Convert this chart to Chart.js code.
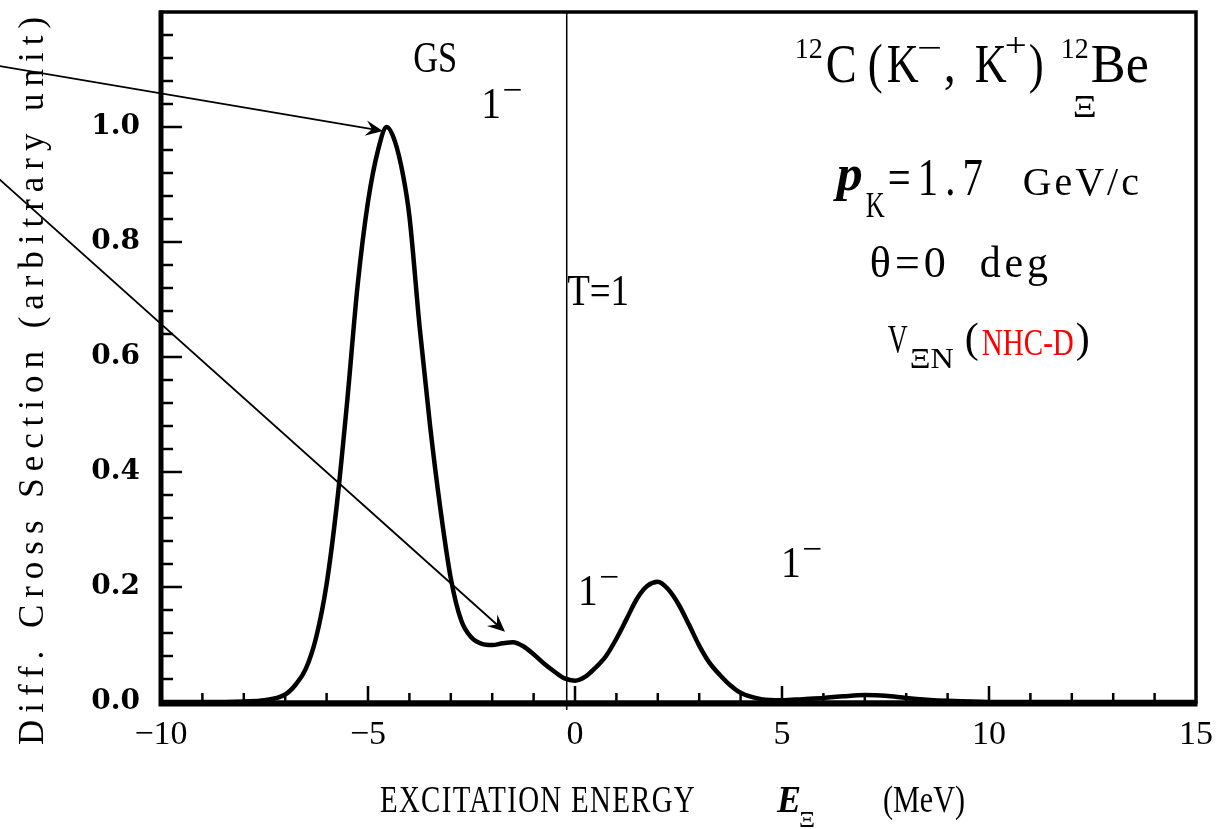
<!DOCTYPE html>
<html lang="en">
<head>
<meta charset="UTF-8">
<title>12C(K-,K+) Xi hypernucleus spectrum</title>
<style>
  html, body { margin: 0; padding: 0; background: #fff; }
  canvas { display: block; }
</style>
</head>
<body>
<canvas id="spectrum" width="1230" height="829"></canvas>

<script src="https://cdn.jsdelivr.net/npm/chart.js"></script>
<script>
// excitation energy E (MeV) and diff. cross section
const energy = [-10, -9, -8, -7.5, -7.0, -6.75, -6.5, -6.25, -6.0, -5.75, -5.5, -5.25, -5.0, -4.75, -4.55,
  -4.35, -4.15, -4.0, -3.75, -3.5, -3.25, -3.0, -2.75, -2.5, -2.25, -2.0, -1.75, -1.5, -1.25, -1.0, -0.75,
  -0.5, -0.25, 0.0, 0.25, 0.5, 0.75, 1.0, 1.25, 1.5, 1.75, 2.0, 2.25, 2.5, 2.75, 3.0, 3.25, 3.5, 3.75,
  4.0, 4.5, 5.0, 5.5, 6.0, 6.5, 7.0, 7.5, 8.0, 8.5, 9.0, 10, 12, 15];
const sigma = [0, 0, 0.001, 0.003, 0.013, 0.03, 0.058, 0.113, 0.205, 0.345, 0.525, 0.725, 0.87, 0.962, 1.0,
  0.975, 0.915, 0.845, 0.65, 0.48, 0.335, 0.215, 0.142, 0.112, 0.101, 0.099, 0.102, 0.104, 0.097, 0.083, 0.067,
  0.053, 0.041, 0.037, 0.044, 0.06, 0.08, 0.11, 0.145, 0.18, 0.202, 0.209, 0.196, 0.17, 0.135, 0.098, 0.068, 0.047, 0.029,
  0.016, 0.005, 0.003, 0.005, 0.007, 0.01, 0.012, 0.011, 0.007, 0.004, 0.002, 0, 0, 0];

const xTicks = [-10, -5, 0, 5, 10, 15];
const yTicks = [0, 0.2, 0.4, 0.6, 0.8, 1.0];

// annotation anchors in data units (E, sigma)
const tLineE = -0.2;
const arrows = [
  { from: [-13.9, 1.106], to: [-4.64, 0.993] },
  { from: [-13.9, 0.909], to: [-1.69, 0.122] }
];
const spinLabels = [[-2.17, 1.016], [0.17, 0.169], [5.07, 0.217]];

const SERIF = '"Liberation Serif", "Times New Roman", serif';

// draw one run of text, squeezed horizontally (the original uses a narrow mincho face)
function run(ctx, s, x, y, size, o = {}) {
  ctx.save();
  ctx.font = `${o.font || ''} ${size}px ${SERIF}`;
  ctx.fillStyle = o.color || '#000';
  ctx.textBaseline = 'alphabetic';
  ctx.textAlign = 'left';
  let sx = o.sx || 0.8;
  let ls = o.ls || 0;
  if (o.span) {
    // keep glyph shape at sx, spread letters out to reach the span
    ctx.letterSpacing = '0px';
    const m = ctx.measureText(s).width;
    ls = (o.span / sx - m) / s.length;
  }
  ctx.letterSpacing = ls + 'px';
  if (o.w) sx = o.w / ctx.measureText(s).width;
  ctx.translate(x, y);
  if (o.rot) ctx.rotate(o.rot);
  ctx.scale(sx, 1);
  ctx.fillText(s, 0, 0);
  ctx.restore();
}

function arrow(ctx, x0, y0, x1, y1) {
  const ang = Math.atan2(y1 - y0, x1 - x0);
  ctx.beginPath();
  ctx.moveTo(x0, y0);
  ctx.lineTo(x1 - 8 * Math.cos(ang), y1 - 8 * Math.sin(ang));
  ctx.stroke();
  const L = 19, W = 0.42, back = 11;
  ctx.beginPath();
  ctx.moveTo(x1, y1);
  ctx.lineTo(x1 - L * Math.cos(ang - W), y1 - L * Math.sin(ang - W));
  ctx.lineTo(x1 - back * Math.cos(ang), y1 - back * Math.sin(ang));
  ctx.lineTo(x1 - L * Math.cos(ang + W), y1 - L * Math.sin(ang + W));
  ctx.closePath();
  ctx.fill();
}

const overlay = {
  id: 'overlay',
  afterDatasetsDraw(chart) {
    const { ctx, chartArea: a, scales: { x, y } } = chart;
    const P = (e, s) => [x.getPixelForValue(e), y.getPixelForValue(s)];
    ctx.save();
    ctx.strokeStyle = '#000';
    ctx.fillStyle = '#000';

    // T=1 threshold line
    const tx = x.getPixelForValue(tLineE);
    ctx.lineWidth = 1.5;
    ctx.beginPath();
    ctx.moveTo(tx, a.top);
    ctx.lineTo(tx, a.bottom + 8);
    ctx.stroke();

    // arrows coming in from the left margin
    ctx.lineWidth = 1.8;
    arrows.forEach(ar => {
      const [x0, y0] = P(...ar.from);
      const [x1, y1] = P(...ar.to);
      arrow(ctx, x0, y0, x1, y1);
    });

    // inward tick marks
    ctx.lineWidth = 2.5;
    for (let i = -9; i <= 14; i++) {
      const X = x.getPixelForValue(i);
      const len = i % 5 === 0 ? 16 : 9;
      ctx.beginPath();
      ctx.moveTo(X, a.bottom);
      ctx.lineTo(X, a.bottom - len);
      ctx.stroke();
    }
    for (let k = 1; k < 30; k++) {
      const Y = y.getPixelForValue(k * 0.04);
      const len = k % 5 === 0 ? 21 : 12;
      ctx.beginPath();
      ctx.moveTo(a.left, Y);
      ctx.lineTo(a.left + len, Y);
      ctx.stroke();
    }

    // frame
    ctx.lineWidth = 3.5;
    ctx.strokeRect(a.left, a.top, a.right - a.left, a.bottom - a.top);
    ctx.lineWidth = 5;
    ctx.beginPath();
    ctx.moveTo(a.left, a.top - 1.5);
    ctx.lineTo(a.left, a.bottom + 2);
    ctx.lineTo(a.right + 1.5, a.bottom + 2);
    ctx.stroke();

    // state labels
    let [gx, gy] = P(-3.91, 1.096);
    run(ctx, 'GS', gx, gy, 44, { w: 44 });
    spinLabels.forEach(([e, s]) => {
      const [X, Y] = P(e, s);
      run(ctx, '1', X - 4, Y, 44, { sx: 0.9 });
      run(ctx, '\u2212', X + 17, Y - 17, 34, { w: 20 });
    });
    [gx, gy] = P(-0.19, 0.69);
    run(ctx, 'T=1', gx, gy, 44, { w: 62 });

    // reaction title block
    const [tx0, ty0] = P(5.31, 1.078);
    run(ctx, '12', tx0, ty0 - 24, 30, { w: 28 });
    run(ctx, 'C', tx0 + 31, ty0, 54, { w: 31 });
    run(ctx, '(', tx0 + 73, ty0, 54, { w: 15 });
    run(ctx, 'K', tx0 + 92, ty0, 54, { w: 32 });
    run(ctx, '\u2212', tx0 + 122, ty0 - 23, 34, { w: 25 });
    run(ctx, ',', tx0 + 149, ty0, 54, { w: 12 });
    run(ctx, 'K', tx0 + 180, ty0, 54, { w: 32 });
    run(ctx, '+', tx0 + 210, ty0 - 26, 34, { w: 22 });
    run(ctx, ')', tx0 + 234, ty0, 54, { w: 15 });
    run(ctx, '12', tx0 + 266, ty0 - 24, 30, { w: 28 });
    run(ctx, 'Be', tx0 + 296, ty0, 54, { w: 58 });
    run(ctx, '\u039E', tx0 + 278, ty0 + 35, 32, { w: 24 });

    // kinematics
    run(ctx, 'p', tx0 + 42, ty0 + 108, 50, { font: 'italic bold', w: 26 });
    run(ctx, 'K', tx0 + 71, ty0 + 135, 36, { w: 19 });
    run(ctx, '=1.7', tx0 + 93, ty0 + 113, 52, { w: 102, ls: 9 });
    run(ctx, 'GeV/c', tx0 + 228, ty0 + 113, 40, { w: 119, ls: 3 });
    run(ctx, '\u03B8=0', tx0 + 75, ty0 + 195, 44, { w: 80, ls: 4 });
    run(ctx, 'deg', tx0 + 185, ty0 + 195, 44, { w: 72, ls: 4 });

    // interaction
    run(ctx, 'V', tx0 + 93, ty0 + 270, 40, { w: 20 });
    run(ctx, '\u039EN', tx0 + 115, ty0 + 286, 30, { w: 44 });
    run(ctx, '(', tx0 + 170, ty0 + 270, 42, { w: 14 });
    run(ctx, 'NHC-D', tx0 + 187, ty0 + 273, 38, { w: 92, color: '#ff0000' });
    run(ctx, ')', tx0 + 281, ty0 + 270, 42, { w: 14 });

    // axis titles
    const base = a.bottom + 110;
    run(ctx, 'EXCITATION ENERGY', 380, base, 38, { sx: 0.76, span: 316 });
    run(ctx, 'E', 777, base, 38, { font: 'italic bold', w: 24 });
    run(ctx, '\u039E', 799, base + 15, 24, { w: 16 });
    run(ctx, '(MeV)', 883, base, 38, { w: 82 });
    run(ctx, 'Diff. Cross Section (arbitrary unit)', 43, a.top + 733, 35,
      { sx: 1.0, span: 735, rot: -Math.PI / 2 });

    ctx.restore();
  }
};

new Chart(document.getElementById('spectrum'), {
  type: 'line',
  data: {
    datasets: [{
      data: energy.map((e, i) => ({ x: e, y: sigma[i] })),
      borderColor: '#000',
      borderWidth: 4.5,
      pointRadius: 0,
      cubicInterpolationMode: 'monotone',
      fill: false
    }]
  },
  options: {
    responsive: false,
    animation: false,
    layout: { padding: { top: 12, right: 34, left: 0, bottom: 0 } },
    plugins: { legend: { display: false }, tooltip: { enabled: false } },
    scales: {
      x: {
        type: 'linear',
        min: -10,
        max: 15,
        afterBuildTicks: s => { s.ticks = xTicks.map(v => ({ value: v })); },
        afterFit: s => { s.height = 127; s.paddingLeft = 0; s.paddingRight = 0; },
        grid: { display: false, drawTicks: false },
        border: { display: false },
        ticks: {
          padding: 13,
          color: '#000',
          font: { family: SERIF, size: 34 },
          maxRotation: 0,
          callback: v => v < 0 ? '\u2212' + Math.abs(v) : String(v)
        }
      },
      y: {
        min: 0,
        max: 1.2,
        afterBuildTicks: s => { s.ticks = yTicks.map(v => ({ value: v })); },
        afterFit: s => { s.width = 161; s.paddingTop = 0; s.paddingBottom = 0; },
        grid: { display: false, drawTicks: false },
        border: { display: false },
        ticks: {
          padding: 21,
          color: '#000',
          font: { family: '"DejaVu Serif", serif', size: 28, weight: 'bold' },
          callback: v => v.toFixed(1)
        }
      }
    }
  },
  plugins: [overlay]
});
</script>
</body>
</html>
